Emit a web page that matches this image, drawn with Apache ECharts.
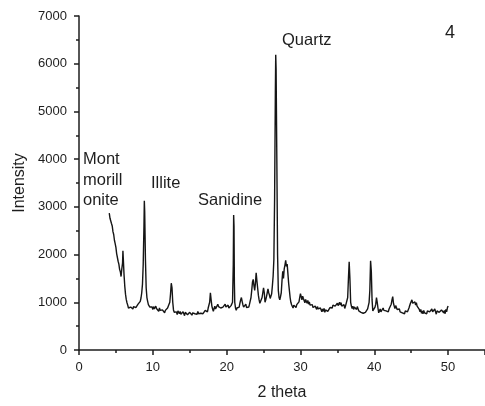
<!DOCTYPE html>
<html>
<head>
<meta charset="utf-8">
<script src="https://cdn.jsdelivr.net/npm/echarts@6/dist/echarts.min.js"></script>
<style>html,body{margin:0;padding:0;background:#fff}#c{width:485px;height:406px}</style>
</head>
<body>
<div id="c"></div>
<script>
// [2theta, intensity] pairs
var scanLow = [[4.1,2870],[4.2,2760],[4.3,2790],[4.4,2650],[4.5,2600],[4.6,2480],[4.7,2420],[4.8,2300],[4.9,2230],[5.0,2150],[5.1,2020],[5.2,1980],[5.3,1860],[5.4,1800],[5.5,1690],[5.6,1640],[5.7,1540],[5.75,1580],[5.8,1700],[5.9,1820],[5.95,2080],[6.0,1920],[6.1,1580],[6.2,1340],[6.3,1170],[6.4,1060],[6.5,990],[6.6,940],
[6.7,880],[6.8,920],[6.9,850],[7.0,900],[7.1,870],[7.2,930],[7.3,860],[7.4,910],[7.5,880],[7.6,940],[7.7,890],[7.8,920],[7.9,900],[8.0,960],[8.1,930],[8.2,990],[8.3,1020],[8.4,1090],[8.5,1200],[8.6,1380],[8.7,1800],[8.8,2600],[8.85,3130],[8.9,2900],[9.0,1900],[9.1,1300],[9.2,1100],[9.3,1020],[9.4,950],[9.5,990],[9.6,900],[9.7,930],[9.8,860],[9.9,900],
[10.0,850],[10.1,910],[10.2,860],[10.3,830],[10.4,920],[10.5,870],[10.6,900],[10.7,840],[10.8,810],[10.9,880],[11.0,830],[11.1,860],[11.2,790],[11.3,840],[11.4,810],[11.5,860],[11.6,780],[11.7,830],[11.8,800],[11.9,860],[12.0,880],[12.1,920],[12.2,900],[12.3,1000],[12.4,1180],[12.5,1400],[12.55,1420],[12.6,1300],[12.7,1000],[12.8,840]];
var scanMid = [[12.9,790],[13.0,830],[13.1,760],[13.2,800],[13.3,740],[13.4,820],[13.5,780],[13.6,760],[13.7,810],[13.8,750],[13.9,790],[14.0,730],[14.1,800],[14.2,760],[14.3,720],[14.4,790],[14.5,750],[14.6,810],[14.7,740],[14.8,770],[14.9,720],[15.0,790],[15.1,750],[15.2,800],[15.3,730],[15.4,780],[15.5,740],[15.6,800],[15.7,760],[15.8,720],[15.9,790],[16.0,750],[16.1,810],[16.2,760],[16.3,730],[16.4,800],[16.5,770],[16.6,740],[16.7,810],[16.8,760],[16.9,800],[17.0,770],[17.1,830],[17.2,790],[17.3,840],[17.4,800],[17.5,880],[17.6,900],[17.7,1000],[17.8,1200],[17.9,1050],
[18.0,920],[18.1,860],[18.2,810],[18.3,870],[18.4,920],[18.5,860],[18.6,900],[18.7,850],[18.8,960],[18.9,910],[19.0,870],[19.1,930],[19.2,880],[19.3,920],[19.4,850],[19.5,900],[19.6,880],[19.7,940],[19.8,960],[19.9,900],[20.0,870],[20.1,920],[20.2,940],[20.3,880],[20.4,900],[20.5,860],[20.6,930],[20.7,900],[20.8,1000],[20.9,1800],[20.95,2830],[21.0,2600],[21.05,1400],[21.1,1000],[21.2,880],[21.3,830],[21.4,880],[21.5,840],[21.6,920],[21.7,900],[21.8,980],[21.9,1050],
[22.0,1100],[22.1,1020],[22.2,950],[22.3,900],[22.4,860],[22.5,920],[22.6,960],[22.7,890],[22.8,870],[22.9,930],[23.0,900],[23.1,960],[23.2,1000],[23.3,1100],[23.4,1250],[23.5,1420],[23.6,1480],[23.7,1350],[23.8,1250],[23.9,1400],[24.0,1620],[24.1,1450],[24.2,1300],[24.3,1150],[24.4,1050],[24.5,980],[24.6,960],[24.7,1020],[24.8,1100],[24.9,1200],[25.0,1300],[25.1,1200],[25.2,1000],[25.3,1050],[25.4,1120],[25.5,1200],[25.6,1280],[25.7,1200],[25.8,1150],[25.9,1080],[26.0,1050],[26.1,1180],[26.2,1350],[26.3,1550],[26.4,1900]];
var scanQuartz = [[26.5,3200],[26.6,5400],[26.65,6190],[26.7,5900],[26.8,4000],[26.9,2000],[27.0,1250],[27.1,1100],[27.2,1050],[27.3,1120],[27.4,1200],[27.5,1450],[27.6,1650],[27.7,1500],[27.8,1700],[27.9,1780],[28.0,1880],[28.1,1750],[28.2,1800],[28.3,1600],[28.4,1400],[28.5,1250],[28.6,1100],[28.7,1000],[28.8,950],[28.9,920],[29.0,880],[29.1,940],[29.2,980],[29.3,920],[29.4,890],[29.5,950],[29.6,920],[29.7,980],[29.8,1010],[29.9,1100]];
var scanHigh = [[30.0,1180],[30.1,1120],[30.2,1050],[30.3,1130],[30.4,1080],[30.5,1100],[30.6,990],[30.7,1060],[30.8,1030],[30.9,980],[31.0,1040],[31.1,960],[31.2,1010],[31.3,940],[31.4,970],[31.5,900],[31.6,950],[31.7,890],[31.8,930],[31.9,870],[32.0,920],[32.1,880],[32.2,850],[32.3,910],[32.4,860],[32.5,890],[32.6,820],[32.7,880],[32.8,840],[32.9,800],[33.0,860],[33.1,810],[33.2,870],[33.3,790],[33.4,840],[33.5,800],[33.6,860],[33.7,810],[33.8,850],[33.9,820],
[34.0,890],[34.1,860],[34.2,920],[34.3,880],[34.4,940],[34.5,900],[34.6,960],[34.7,920],[34.8,890],[34.9,950],[35.0,980],[35.1,930],[35.2,960],[35.3,1000],[35.4,940],[35.5,990],[35.6,920],[35.7,960],[35.8,900],[35.9,950],[36.0,870],[36.1,920],[36.2,880],[36.3,950],[36.4,1100],[36.5,1500],[36.6,1850],[36.7,1500],[36.8,1000],[36.9,920],[37.0,870],[37.1,920],[37.2,850],[37.3,900],[37.4,930],[37.5,880],[37.6,850],[37.7,910],[37.8,880],[37.9,820],
[38.0,780],[38.1,830],[38.2,790],[38.3,760],[38.4,820],[38.5,770],[38.6,800],[38.7,750],[38.8,790],[38.9,830],[39.0,800],[39.1,860],[39.2,900],[39.3,1000],[39.4,1250],[39.5,1870],[39.6,1650],[39.7,1050],[39.8,820],[39.9,780],[40.0,850],[40.1,900],[40.2,960],[40.3,1100],[40.4,1000],[40.5,880],[40.6,780],[40.7,820],[40.8,860],[40.9,800],[41.0,840],[41.1,790],[41.2,880],[41.3,830],[41.4,800],[41.5,860],[41.6,820],[41.7,780],[41.8,840],[41.9,800],
[42.0,860],[42.1,820],[42.2,900],[42.3,960],[42.4,1050],[42.5,1120],[42.6,980],[42.7,920],[42.8,870],[42.9,930],[43.0,900],[43.1,850],[43.2,880],[43.3,820],[43.4,860],[43.5,800],[43.6,770],[43.7,830],[43.8,780],[43.9,740],[44.0,800],[44.1,760],[44.2,820],[44.3,780],[44.4,850],[44.5,800],[44.6,840],[44.7,880],[44.8,920],[44.9,980],[45.0,950],[45.1,1050],[45.2,980],[45.3,1020],[45.4,960],[45.5,1010],[45.6,940],[45.7,990],[45.8,920],[45.9,960],
[46.0,880],[46.1,850],[46.2,800],[46.3,850],[46.4,770],[46.5,820],[46.6,760],[46.7,830],[46.8,780],[46.9,740],[47.0,810],[47.1,760],[47.2,820],[47.3,780],[47.4,850],[47.5,800],[47.6,760],[47.7,830],[47.8,860],[47.9,800],[48.0,840],[48.1,780],[48.2,860],[48.3,800],[48.4,750],[48.5,820],[48.6,780],[48.7,850],[48.8,790],[48.9,830],[49.0,770],[49.1,840],[49.2,800],[49.3,860],[49.4,780],[49.5,830],[49.6,760],[49.7,850],[49.8,800],[49.9,880],[50.0,920]];
var xTicks = [0,10,20,30,40,50];
var yTicks = [0,1000,2000,3000,4000,5000,6000,7000];
var peakLabels = ['Mont','morill','onite','Illite','Sanidine','Quartz','4'];

var pts = scanLow.concat(scanMid, scanQuartz, scanHigh);
var chart = echarts.init(document.getElementById('c'));
var txt = '#1e1e1e';
var fam = '"Liberation Sans", Arial, sans-serif';
chart.setOption({
  animation:false,
  grid:{left:79, right:-9, top:16, bottom:53},
  xAxis:{type:'value', min:0, max:55, interval:10,
    name:'2 theta', nameLocation:'middle', nameGap:35,
    nameTextStyle:{fontSize:16, color:txt, fontFamily:fam},
    axisLine:{lineStyle:{color:txt, width:1.5}},
    axisTick:{show:true, inside:false, length:5, lineStyle:{color:txt, width:1.5}},
    minorTick:{show:true, splitNumber:2, length:3, lineStyle:{color:txt, width:1.5}},
    splitLine:{show:false},
    axisLabel:{fontSize:13, color:txt, fontFamily:fam, margin:11, showMaxLabel:false,
      formatter:function(v){return xTicks.indexOf(v)>=0 ? String(v) : '';}}
  },
  yAxis:{type:'value', min:0, max:7000, interval:1000,
    name:'Intensity', nameLocation:'middle', nameGap:49,
    nameTextStyle:{fontSize:16, color:txt, fontFamily:fam},
    axisLine:{show:true, lineStyle:{color:txt, width:1.5}},
    axisTick:{show:true, inside:false, length:5, lineStyle:{color:txt, width:1.5}},
    minorTick:{show:true, splitNumber:2, length:3, lineStyle:{color:txt, width:1.5}},
    splitLine:{show:false},
    axisLabel:{fontSize:13, color:txt, fontFamily:fam, margin:12,
      formatter:function(v){return yTicks.indexOf(v)>=0 ? String(v) : '';}}
  },
  series:[{type:'line', data:pts, showSymbol:false, symbol:'none',
    lineStyle:{color:'#151515', width:1.4}}],
  graphic:[
    {type:'text', style:{text:peakLabels[0], x:83, y:159, fill:txt, font:'16.5px '+fam, verticalAlign:'middle'}},
    {type:'text', style:{text:peakLabels[1], x:83, y:180, fill:txt, font:'16.5px '+fam, verticalAlign:'middle'}},
    {type:'text', style:{text:peakLabels[2], x:83, y:200, fill:txt, font:'16.5px '+fam, verticalAlign:'middle'}},
    {type:'text', style:{text:peakLabels[3], x:151, y:183, fill:txt, font:'16.5px '+fam, verticalAlign:'middle'}},
    {type:'text', style:{text:peakLabels[4], x:198, y:200, fill:txt, font:'16.5px '+fam, verticalAlign:'middle'}},
    {type:'text', style:{text:peakLabels[5], x:282, y:40, fill:txt, font:'16.5px '+fam, verticalAlign:'middle'}},
    {type:'text', style:{text:peakLabels[6], x:450, y:33, fill:txt, font:'18px '+fam, verticalAlign:'middle', align:'center'}}
  ]
});
</script>
</body>
</html>
